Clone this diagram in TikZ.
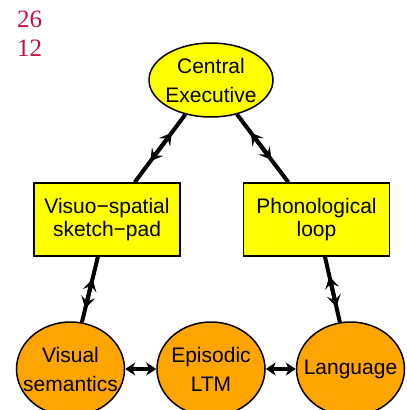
\documentclass[tikz,border=0pt]{standalone}
\usepackage{fontspec}
\setmainfont{Liberation Sans}
\newfontfamily\pagefont{Liberation Serif}
\usetikzlibrary{shapes.geometric, arrows.meta, positioning}
\definecolor{lobeyellow}{RGB}{255,255,0}
\definecolor{lobeorange}{RGB}{255,165,0}
\definecolor{pagered}{RGB}{200,16,70}

\begin{document}
\begin{tikzpicture}[x=1pt, y=-1pt,
    >={Stealth[length=12pt, width=14pt, inset=5pt]},
    txt/.style={align=center, font=\fontsize{21}{29}\selectfont},
    execnode/.style={draw, ellipse, line width=1.5pt, fill=lobeyellow, minimum width=124pt, minimum height=74pt, inner sep=0pt},
    memnode/.style={draw, ellipse, line width=1.5pt, fill=lobeorange, minimum width=108pt, minimum height=94pt, inner sep=0pt},
    buffer/.style={draw, rectangle, line width=1.5pt, fill=lobeyellow, minimum width=146pt, minimum height=73pt, align=center, font=\fontsize{21}{23.5}\selectfont},
    link/.style={line width=4pt},
    hlink/.style={line width=3.5pt, arrows={Stealth[length=10pt, width=13pt, inset=3pt]-Stealth[length=10pt, width=13pt, inset=3pt]}},
    pagenum/.style={anchor=base west, inner sep=0pt, text=pagered, font=\pagefont\fontsize{25}{25}\selectfont}]
        \useasboundingbox (0,0) rectangle (407,410);
        \clip (0,0) rectangle (407,410);
        % Page numbers
        \node[pagenum] (pagetop) at (17,27) {26};
        \node[pagenum] (pagebot) at (17,56) {12};
        % Nodes
        \node[execnode, label={[txt]center:Central\\Executive}] (central) at (211,80) {};
        \node[buffer] (sketchpad) at (107,219.5) {Visuo−spatial\\sketch−pad};
        \node[buffer, right=62pt of sketchpad] (phonloop) {Phonological\\loop};
        \node[memnode, label={[txt]center:Episodic\\LTM}] (episodic) at (211,369) {};
        \node[memnode, left=31pt of episodic, label={[txt]center:Visual\\semantics}] (visem) {};
        \node[memnode, right=30pt of episodic, label={[txt]center:Language}] (language) {};
        % Two-way links, heads in the middle
        \foreach \from/\to/\up/\down in {central/sketchpad/0.27/0.69, central/phonloop/0.27/0.67,
                sketchpad/visem/0.34/0.79, phonloop/language/0.3/0.77} {
            \draw[link] (\from) -- (\to)
                coordinate[pos=\up] (\from-\to-up)
                coordinate[pos=(\up+\down)/2] (\from-\to-mid)
                coordinate[pos=\down] (\from-\to-down);
            \draw[link, ->] (\from-\to-mid) -- (\from-\to-up);
            \draw[link, ->] (\from-\to-mid) -- (\from-\to-down);
        }
        % Arrows along the bottom
        \draw[hlink] (visem) -- (episodic);
        \draw[hlink] (episodic) -- (language);
    \end{tikzpicture}
\end{document}
